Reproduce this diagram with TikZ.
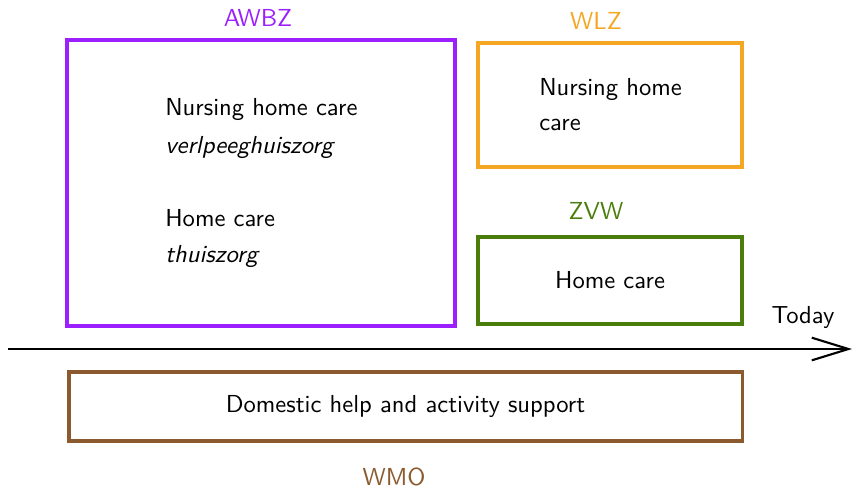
\documentclass[tikz,border=0pt]{standalone}
\usetikzlibrary{arrows.meta}
\definecolor{awbzpurple}{HTML}{9B1FFF}
\definecolor{wlzorange}{HTML}{F5A623}
\definecolor{zvwgreen}{HTML}{4A7D0C}
\definecolor{wmobrown}{HTML}{8B5A2E}
\begin{document}
\begin{tikzpicture}[x=0.015cm,y=-0.015cm,font=\sffamily\fontsize{10.5}{12.6}\selectfont,
    box/.style={rectangle,draw,line width=1.3pt,inner sep=0pt},
    label node/.style={inner sep=0pt},
    care node/.style={anchor=west}]
        \useasboundingbox (0,0) rectangle (854,488);

        % boxes
        \node[box,draw=awbzpurple,minimum width=5.82cm,minimum height=4.29cm] at (261, 183) (awbz) {};
        \node[box,draw=wlzorange,minimum width=3.96cm,minimum height=1.86cm] at (610, 105) (wlz) {};
        \node[box,draw=zvwgreen,minimum width=3.96cm,minimum height=1.305cm] at (610, 280.5) (zvw) {Home care};
        \node[box,draw=wmobrown,minimum width=10.095cm,minimum height=1.035cm] at (405.5, 406.5) (wmo) {Domestic help and activity support};

        % labels
        \node[label node,awbzpurple] at (258, 18) (awbzlabel) {AWBZ};
        \node[label node,wlzorange] at (596, 21) (wlzlabel) {WLZ};
        \node[label node,zvwgreen] at (596, 211) (zvwlabel) {ZVW};
        \node[label node,wmobrown] at (394, 477) (wmolabel) {WMO};

        % texts
        \node[care node] at (157, 109) (nursing) {Nursing home care};
        \node[care node] at (157, 147) (verpleeg) {\itshape verlpeeghuiszorg};
        \node[care node] at (157, 218) (home) {Home care};
        \node[care node] at (157, 256) (thuis) {\itshape thuiszorg};
        \node[care node] at (531, 89) (wlznursing) {Nursing home};
        \node[care node] at (531, 125) (wlzcare) {care};

        % time line
        \coordinate (start) at (8, 349);
        \coordinate (today) at (852, 349);
        \node at (803, 317) (todaylabel) {Today};
        \draw[line width=0.9pt,-{Straight Barb[length=5.5mm,width=3.4mm]}] (start) -- (today);
    \end{tikzpicture}
\end{document}
